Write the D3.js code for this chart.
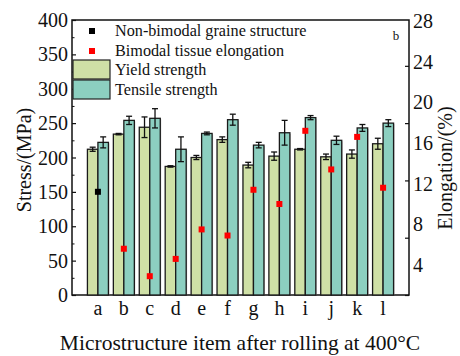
<!DOCTYPE html>
<html><head><meta charset="utf-8">
<script src="https://cdn.jsdelivr.net/npm/d3@7"></script>
<style>body{margin:0;background:#fff}svg{display:block}text{font-family:"Liberation Serif","Times New Roman",serif;fill:#111}</style>
</head><body><svg id="c" width="460" height="356"></svg>
<script>
const categories = ["a","b","c","d","e","f","g","h","i","j","k","l"];
const yieldStrength = [212,234,244,187,200,226,189,202,212,201,205,220];
const yieldErr      = [3,1,15,1,3,4,4,6,1,4,6,8];
const tensileStrength = [222,254,257,212,235,255,218,236,258,225,243,250];
const tensileErr      = [8,6,14,18,2,8,4,18,3,6,5,5];
const elongation = [11.2,5.6,2.9,4.6,7.5,6.9,11.4,10.0,17.2,13.4,16.6,11.6];
const elongationGroup = ["non","bi","bi","bi","bi","bi","bi","bi","bi","bi","bi","bi"];
const stressTicks = [0,50,100,150,200,250,300,350,400];
const elongTicks = [4,8,12,16,20,24,28];

const FF = "'Liberation Serif','Times New Roman',serif";
const svg = d3.select("#c");
const L=72, R=409, T=20, B=295;
const x = d3.scalePoint().domain(categories).range([L,R]).padding(1);
const y = d3.scaleLinear().domain([0,400]).range([B,T]);
const yE = d3.scaleLinear().domain([4,28]).range([265,21]);
const yTick = d3.scaleLinear().domain([0,24]).range([B,T]);
const bw = 10.5;
const cY="#cfe0a6", cT="#8ccfc0";

svg.append("rect").attr("x",L).attr("y",T).attr("width",R-L).attr("height",B-T)
  .attr("fill","none").attr("stroke","#111").attr("stroke-width",1.5);

const g = svg.append("g");
function bars(vals, errs, dx, col){
  g.selectAll(null).data(categories).enter().append("rect")
    .attr("x",d=>x(d)+dx+1).attr("y",(d,i)=>y(vals[i])+1)
    .attr("width",bw).attr("height",(d,i)=>B-y(vals[i])-1)
    .attr("fill","#999").attr("opacity",0.5);
  g.selectAll(null).data(categories).enter().append("rect")
    .attr("x",d=>x(d)+dx).attr("y",(d,i)=>y(vals[i]))
    .attr("width",bw).attr("height",(d,i)=>B-y(vals[i]))
    .attr("fill",col).attr("stroke","#1a1a1a").attr("stroke-width",1.3);
  categories.forEach((d,i)=>{
    const cx = x(d)+dx+bw/2, y1=y(vals[i]+errs[i]), y2=y(vals[i]-errs[i]);
    g.append("line").attr("x1",cx).attr("x2",cx).attr("y1",y1).attr("y2",y2).attr("stroke","#111").attr("stroke-width",1.3);
    [y1,y2].forEach(yy=>g.append("line").attr("x1",cx-3).attr("x2",cx+3).attr("y1",yy).attr("y2",yy).attr("stroke","#111").attr("stroke-width",1.3));
  });
}
bars(yieldStrength, yieldErr, -bw, cY);
bars(tensileStrength, tensileErr, 0, cT);

svg.append("g").selectAll("rect").data(categories).enter().append("rect")
  .attr("x",d=>x(d)-3).attr("y",(d,i)=>yE(elongation[i])-3)
  .attr("width",6).attr("height",6)
  .attr("fill",(d,i)=>elongationGroup[i]==="non"?"#000":"#f00");

const ya = svg.append("g").attr("transform",`translate(${L},0)`)
  .call(d3.axisRight(y).tickValues(stressTicks).tickSize(4).tickFormat(""));
ya.select(".domain").remove();
ya.selectAll("line").attr("stroke","#111").attr("stroke-width",1.2);
const yam = svg.append("g").attr("transform",`translate(${L},0)`)
  .call(d3.axisRight(y).tickValues(d3.range(25,400,50)).tickSize(2.5).tickFormat(""));
yam.select(".domain").remove();
yam.selectAll("line").attr("stroke","#111");
svg.append("g").selectAll("text").data(stressTicks).enter().append("text")
  .attr("x",L-4).attr("y",d=>y(d)+7).attr("text-anchor","end").attr("font-family",FF)
  .attr("font-size",20).text(d=>d);

const ra = svg.append("g").attr("transform",`translate(${R},0)`)
  .call(d3.axisLeft(yTick).ticks(6).tickSize(4).tickFormat(""));
ra.select(".domain").remove();
ra.selectAll("line").attr("stroke","#111").attr("stroke-width",1.2);
svg.append("g").selectAll("text").data(elongTicks).enter().append("text")
  .attr("x",R+4).attr("y",d=>yE(d)+7).attr("font-family",FF).attr("font-size",20).text(d=>d);

svg.append("g").selectAll("text").data(categories).enter().append("text")
  .attr("x",d=>x(d)).attr("y",B+20).attr("text-anchor","middle").attr("font-family",FF).attr("font-size",20).text(d=>d);

svg.append("text").attr("x",240).attr("y",350).attr("text-anchor","middle").attr("font-family",FF).attr("font-size",21.5)
  .text("Microstructure item after rolling at 400°C");
svg.append("text").attr("transform","translate(31,160) rotate(-90)").attr("text-anchor","middle").attr("font-family",FF).attr("font-size",20)
  .text("Stress/(MPa)");
svg.append("text").attr("transform","translate(452,168) rotate(-90)").attr("text-anchor","middle").attr("font-family",FF).attr("font-size",20)
  .text("Elongation/(%)");
svg.append("text").attr("x",396).attr("y",40).attr("text-anchor","middle").attr("font-family",FF).attr("font-size",13).text("b");

const lg = svg.append("g").attr("font-family",FF);
lg.append("rect").attr("x",89).attr("y",28).attr("width",6).attr("height",6).attr("fill","#000");
lg.append("text").attr("x",115).attr("y",36).attr("font-size",16.2).attr("font-family",FF).text("Non-bimodal graine structure");
lg.append("rect").attr("x",89).attr("y",48).attr("width",6).attr("height",6).attr("fill","#f00");
lg.append("text").attr("x",115).attr("y",56).attr("font-size",16.2).attr("font-family",FF).text("Bimodal tissue elongation");
lg.append("rect").attr("x",73).attr("y",60).attr("width",37).attr("height",19).attr("fill",cY).attr("stroke","#222").attr("stroke-width",1.2);
lg.append("text").attr("x",115).attr("y",75).attr("font-size",16.2).attr("font-family",FF).text("Yield strength");
lg.append("rect").attr("x",73).attr("y",80).attr("width",37).attr("height",19).attr("fill",cT).attr("stroke","#222").attr("stroke-width",1.2);
lg.append("text").attr("x",115).attr("y",95).attr("font-size",16.2).attr("font-family",FF).text("Tensile strength");
</script></body></html>
